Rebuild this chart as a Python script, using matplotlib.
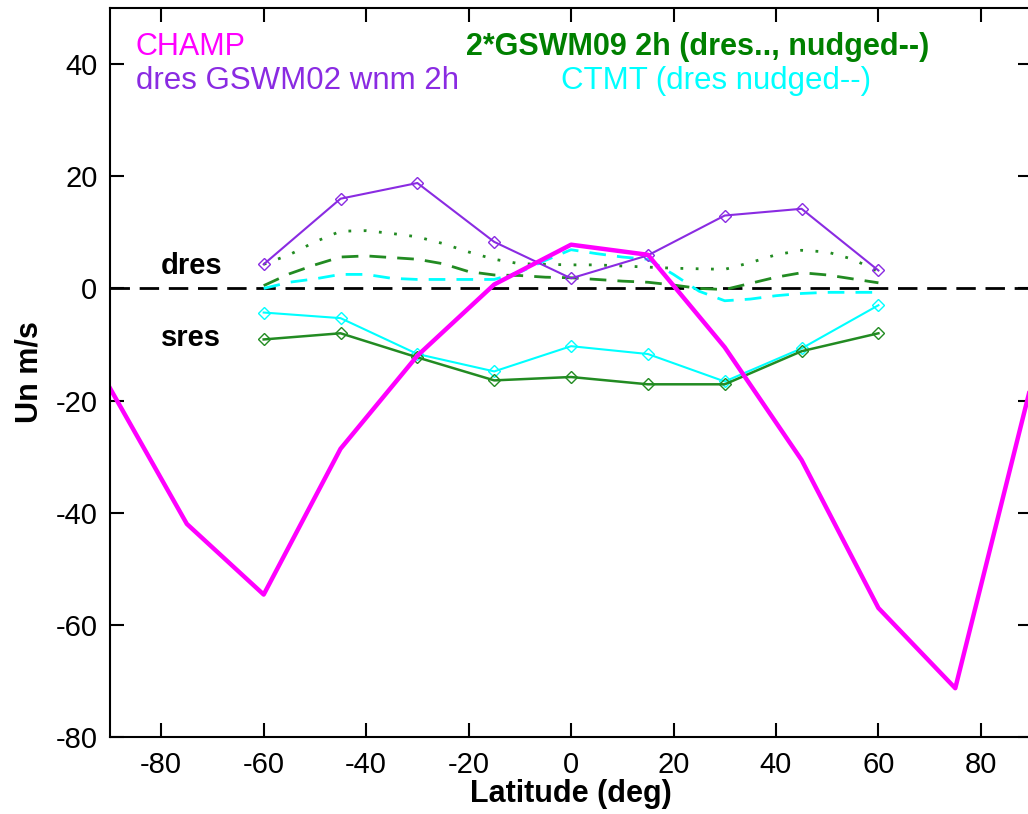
import numpy as np
import matplotlib
matplotlib.use('Agg')
import matplotlib.pyplot as plt

plt.rcParams['font.family'] = ['Liberation Sans', 'DejaVu Sans']
plt.rcParams['axes.unicode_minus'] = False

# CHAMP, every 15 deg
lat15 = [-90, -75, -60, -45, -30, -15, 0, 15, 30, 45, 60, 75, 90]
champ = [-17.8, -42.0, -54.6, -28.6, -12.0, 0.7, 7.8, 6.0, -10.5, -30.6, -57.0, -71.3, -16.5]

# model points, every 15 deg between -60 and 60
lat_m = [-60, -45, -30, -15, 0, 15, 30, 45, 60]
gswm02_dres = [4.3, 16.0, 18.8, 8.3, 1.8, 5.9, 13.0, 14.2, 3.2]
gswm09_sres = [-9.1, -8.0, -12.3, -16.4, -15.8, -17.1, -17.1, -11.2, -8.0]
ctmt_sres = [-4.3, -5.3, -11.7, -14.8, -10.3, -11.7, -16.6, -10.7, -3.0]

# smooth curves, every 5 deg
lat5 = list(range(-60, 61, 5))
gswm09_dres = [4.3, 6.0, 8.3, 10.2, 10.3, 9.8, 9.2, 8.0, 6.5, 5.2, 4.4, 4.3, 4.2,
               4.2, 4.0, 3.8, 3.6, 3.5, 3.4, 4.6, 6.0, 6.8, 6.5, 5.2, 3.0]
gswm09_nudged = [0.5, 2.6, 4.2, 5.6, 5.8, 5.5, 5.2, 4.4, 3.0, 2.4, 2.3, 2.0, 1.9,
                 1.6, 1.3, 1.1, 0.6, 0.0, -0.2, 0.9, 2.0, 2.8, 2.4, 1.7, 1.0]
ctmt_nudged = [0.0, 1.1, 1.7, 2.5, 2.5, 1.8, 1.6, 1.6, 1.6, 1.6, 2.9, 5.0, 6.9,
               6.2, 5.6, 5.2, 2.5, -0.5, -2.2, -1.9, -1.3, -0.9, -0.7, -0.7, -0.7]

magenta = '#ff00ff'
purple = '#8a2be2'
green = '#228b22'
cyan = '#00ffff'

fig = plt.figure(figsize=(10.28, 8.14), dpi=100)
ax = fig.add_axes([0.107, 0.0946, 0.897, 0.8955])

ax.axhline(0, color='k', lw=2, ls=(0, (7, 3.5)), zorder=1)

ax.plot(lat5, gswm09_dres, color=green, lw=2, ls=(0, (1, 4.5)))
ax.plot(lat5, gswm09_nudged, color=green, lw=2, ls=(0, (6, 4)))
ax.plot(lat5, ctmt_nudged, color=cyan, lw=2, ls=(0, (6, 4)))

mk = dict(marker='D', ms=6.5, mfc='none', mew=1)
ax.plot(lat_m, gswm02_dres, color=purple, lw=1.5, **mk)
ax.plot(lat_m, ctmt_sres, color=cyan, lw=1.5, **mk)
ax.plot(lat_m, gswm09_sres, color=green, lw=1.8, **mk)
ax.plot(lat15, champ, color=magenta, lw=3.2)

ax.set_xlim(-90, 90)
ax.set_ylim(-80, 50)
ax.set_xticks(np.arange(-80, 81, 20))
ax.set_yticks(np.arange(-80, 41, 20))
ax.tick_params(direction='in', length=10, width=1.5, labelsize=21, top=True, right=True)
ax.tick_params(axis='x', pad=10)
ax.tick_params(axis='y', pad=9)
for s in ax.spines.values():
    s.set_linewidth(1.5)

ax.set_xlabel('Latitude (deg)', fontsize=22, fontweight='bold', labelpad=0)
ax.set_ylabel('Un m/s', fontsize=22, fontweight='bold', labelpad=8)

ax.text(-85, 43, 'CHAMP', color=magenta, fontsize=22, va='center')
ax.text(-85, 37, 'dres GSWM02 wnm 2h', color=purple, fontsize=22.5, va='center')
ax.text(-20.5, 43, '2*GSWM09 2h (dres.., nudged--)', color='#008000', fontsize=22,
        va='center', fontweight='bold')
ax.text(-2, 37, 'CTMT (dres nudged--)', color=cyan, fontsize=22.5, va='center')
ax.text(-80, 4, 'dres', fontsize=21, fontweight='bold', va='center')
ax.text(-80, -8.9, 'sres', fontsize=21, fontweight='bold', va='center')

fig.savefig('out.png')
